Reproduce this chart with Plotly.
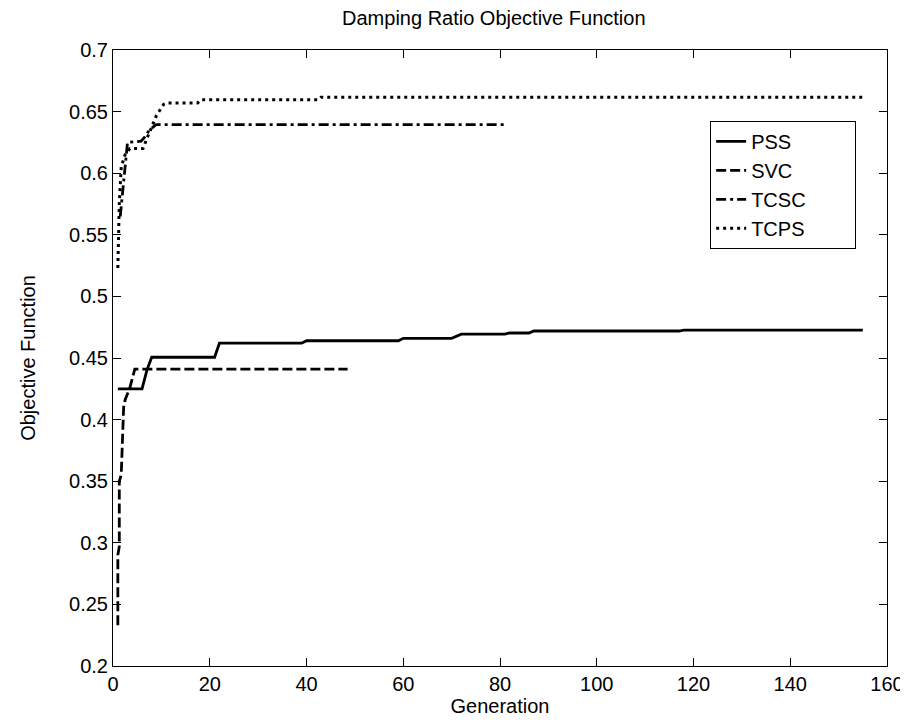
import plotly.graph_objects as go

# ---- data ----
pss_gen = [1, 6, 7, 8, 21, 22, 39, 40, 59, 60, 70, 71, 72, 81, 82, 86, 87, 117, 118, 155]
pss_val = [0.425, 0.425, 0.440, 0.4506, 0.4506, 0.462, 0.462, 0.464, 0.464, 0.466, 0.466,
           0.4678, 0.4693, 0.4693, 0.4703, 0.4703, 0.4719, 0.4719, 0.4726, 0.4726]

svc_gen = [1.0, 1.0, 1.3, 1.3, 1.7, 2.2, 2.5, 3.5, 4.5, 48.5]
svc_val = [0.233, 0.29, 0.297, 0.35, 0.355, 0.41, 0.416, 0.426, 0.441, 0.441]

tcsc_gen = [1.5, 2.0, 2.4, 3.0, 5.8, 6.5, 7.5, 8.9, 81.3]
tcsc_val = [0.565, 0.585, 0.605, 0.625, 0.626, 0.629, 0.635, 0.6394, 0.6394]

tcps_gen = [1, 1.3, 1.7, 2.5, 3.5, 6.2, 7, 8, 9, 10.5, 11.3, 17.5, 18.2, 42.5, 43, 155]
tcps_val = [0.523, 0.575, 0.605, 0.615, 0.62, 0.62, 0.628, 0.638, 0.647, 0.656, 0.657,
            0.657, 0.6597, 0.6597, 0.6616, 0.6616]

series_names = ["PSS", "SVC", "TCSC", "TCPS"]

x_ticks = [0, 20, 40, 60, 80, 100, 120, 140, 160]
y_ticks = [0.2, 0.25, 0.3, 0.35, 0.4, 0.45, 0.5, 0.55, 0.6, 0.65, 0.7]
y_tick_text = ["0.2", "0.25", "0.3", "0.35", "0.4", "0.45", "0.5", "0.55", "0.6", "0.65", "0.7"]

FONT = "Liberation Sans, Arial, sans-serif"
LW = 2.8
PAD = "\u00a0" * 8  # widens the legend box like the reference

fig = go.Figure()
fig.add_trace(go.Scatter(x=pss_gen, y=pss_val, mode="lines", name=series_names[0] + PAD,
                         line=dict(color="black", width=LW, dash="solid")))
fig.add_trace(go.Scatter(x=svc_gen, y=svc_val, mode="lines", name=series_names[1] + PAD,
                         line=dict(color="black", width=LW, dash="10px,4px")))
fig.add_trace(go.Scatter(x=tcsc_gen, y=tcsc_val, mode="lines", name=series_names[2] + PAD,
                         line=dict(color="black", width=LW, dash="10px,4px,3px,4px")))
fig.add_trace(go.Scatter(x=tcps_gen, y=tcps_val, mode="lines", name=series_names[3] + PAD,
                         line=dict(color="black", width=3, dash="3px,4px")))

axis_common = dict(showgrid=False, zeroline=False, showline=True, linecolor="black",
                   linewidth=1, mirror="ticks", ticks="inside", ticklen=8,
                   tickcolor="black", tickwidth=1,
                   tickfont=dict(family=FONT, size=20, color="black"))

fig.update_xaxes(range=[0, 160], tickvals=x_ticks,
                 title=dict(text="Generation", font=dict(family=FONT, size=20, color="black"),
                            standoff=4),
                 **axis_common)
fig.update_yaxes(range=[0.2, 0.7], tickvals=y_ticks, ticktext=y_tick_text,
                 title=dict(text="Objective Function", font=dict(family=FONT, size=20, color="black"),
                            standoff=28),
                 **axis_common)

fig.update_layout(
    width=908, height=723,
    margin=dict(l=105, r=24, t=42, b=65),
    paper_bgcolor="white", plot_bgcolor="white",
    title=dict(text="Damping Ratio Objective Function", x=0.535, xanchor="center",
               y=0.986, yanchor="middle",
               font=dict(family=FONT, size=20, color="black")),
    legend=dict(x=0.7715, y=0.885, xanchor="left", yanchor="top",
                bordercolor="black", borderwidth=1, bgcolor="white",
                font=dict(family=FONT, size=20, color="black"),
                tracegroupgap=0),
    showlegend=True,
)

fig.write_html("out.html")
